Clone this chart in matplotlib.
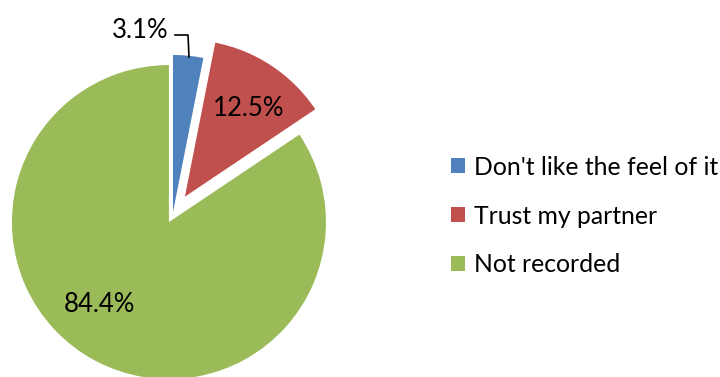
import matplotlib.pyplot as plt

labels = ["Don't like the feel of it", "Trust my partner", "Not recorded"]
shares = [3.1, 12.5, 84.4]
colors = ["#4F81BD", "#C0504D", "#9BBB59"]

W, H = 720, 377
fig = plt.figure(figsize=(W / 100, H / 100), dpi=100)
ax = fig.add_axes([0, 0, 1, 1])
plt.rcParams['font.family'] = ['Lato', 'DejaVu Sans']

# pie drawn in pixel units: radius and explode are in pixels
wedges, texts, autotexts = ax.pie(
    shares, colors=colors, startangle=90, counterclock=False,
    center=(172.7, 162), radius=157, explode=[3, 22, 8],
    autopct='%.1f%%', wedgeprops=dict(linewidth=0),
    textprops=dict(fontsize=18.5, color='black'))
ax.set_xlim(0, W)
ax.set_ylim(0, H)
ax.set_aspect('equal')
ax.axis('off')

label_pos = [(140, 347), (249, 269), (99, 72)]
for t, p in zip(autotexts, label_pos):
    t.set_position(p)
    t.set_ha('center')
    t.set_va('center')

# leader line for the small slice
ax.plot([175, 188, 189], [342, 342, 320], color='black', lw=1.2)

ax.legend(wedges, labels, loc='center left', bbox_to_anchor=(451 / W, 161 / H),
          frameon=False, fontsize=17.8, handlelength=0.56, handleheight=0.56,
          handletextpad=0.38, labelspacing=1.05, borderpad=0, borderaxespad=0)

fig.savefig('out.png', dpi=100)
